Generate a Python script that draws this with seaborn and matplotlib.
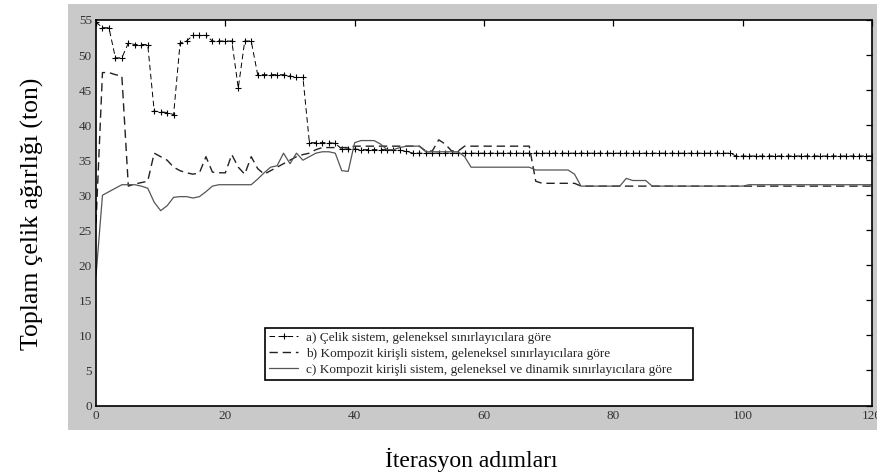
import matplotlib
matplotlib.use("Agg")
import matplotlib.pyplot as plt
import seaborn as sns
import pandas as pd
from matplotlib.patches import Rectangle

# ---------------- data ----------------
iterations = list(range(0, 121))

series_a = [
    54.7, 53.9, 53.9, 49.6, 49.6, 51.7, 51.5, 51.5, 51.5, 42.0,
    41.9, 41.8, 41.5, 51.7, 52.0, 52.8, 52.8, 52.8, 52.0, 52.0,
    52.0, 52.0, 45.3, 52.0, 52.0, 47.2, 47.2, 47.2, 47.2, 47.2,
    47.0, 46.8, 46.8, 37.5, 37.5, 37.5, 37.5, 37.4, 36.6, 36.6,
    36.6, 36.5, 36.5, 36.5, 36.5, 36.5, 36.4, 36.4, 36.3, 36.0,
    36.0, 36.0, 36.0, 36.0, 36.0, 36.0, 36.0, 36.0, 36.0, 36.0,
    36.0, 36.0, 36.0, 36.0, 36.0, 36.0, 36.0, 36.0, 36.0, 36.0,
    36.0, 36.0, 36.0, 36.0, 36.0, 36.0, 36.0, 36.0, 36.0, 36.0,
    36.0, 36.0, 36.0, 36.0, 36.0, 36.0, 36.0, 36.0, 36.0, 36.0,
    36.0, 36.0, 36.0, 36.0, 36.0, 36.0, 36.0, 36.0, 36.0, 35.6,
    35.6, 35.6, 35.6, 35.6, 35.6, 35.6, 35.6, 35.6, 35.6, 35.6,
    35.6, 35.6, 35.6, 35.6, 35.6, 35.6, 35.6, 35.6, 35.6, 35.6,
    35.6,
]

series_b = [
    26.0, 47.5, 47.5, 47.2, 47.0, 31.3, 31.6, 31.8, 32.0, 36.0,
    35.5, 35.0, 34.0, 33.5, 33.2, 33.0, 33.2, 35.5, 33.3, 33.2,
    33.2, 35.8, 34.0, 33.0, 35.5, 33.8, 33.0, 33.5, 34.0, 34.5,
    35.0, 35.5, 35.8, 36.0, 36.5, 36.8, 36.8, 36.8, 36.8, 36.8,
    37.0, 37.0, 37.0, 37.0, 37.0, 37.0, 37.0, 37.0, 37.0, 37.0,
    37.0, 36.3, 36.3, 37.9, 37.3, 36.3, 36.3, 37.0, 37.0, 37.0,
    37.0, 37.0, 37.0, 37.0, 37.0, 37.0, 37.0, 37.0, 32.0, 31.7,
    31.7, 31.7, 31.7, 31.7, 31.7, 31.3, 31.3, 31.3, 31.3, 31.3,
    31.3, 31.3, 31.3, 31.3, 31.3, 31.3, 31.3, 31.3, 31.3, 31.3,
    31.3, 31.3, 31.3, 31.3, 31.3, 31.3, 31.3, 31.3, 31.3, 31.3,
    31.3, 31.3, 31.3, 31.3, 31.3, 31.3, 31.3, 31.3, 31.3, 31.3,
    31.3, 31.3, 31.3, 31.3, 31.3, 31.3, 31.3, 31.3, 31.3, 31.3,
    31.3,
]

series_c = [
    18.5, 30.0, 30.5, 31.0, 31.5, 31.5, 31.5, 31.3, 31.0, 29.0,
    27.8, 28.5, 29.7, 29.8, 29.8, 29.6, 29.8, 30.5, 31.3, 31.5,
    31.5, 31.5, 31.5, 31.5, 31.5, 32.3, 33.2, 34.0, 34.2, 36.0,
    34.5, 36.0, 35.0, 35.5, 36.0, 36.2, 36.2, 36.0, 33.5, 33.4,
    37.5, 37.8, 37.8, 37.8, 37.3, 36.5, 36.5, 36.8, 37.0, 37.0,
    37.0, 36.2, 36.2, 36.2, 36.2, 36.2, 36.2, 35.5, 34.0, 34.0,
    34.0, 34.0, 34.0, 34.0, 34.0, 34.0, 34.0, 34.0, 33.6, 33.6,
    33.6, 33.6, 33.6, 33.6, 33.0, 31.3, 31.3, 31.3, 31.3, 31.3,
    31.3, 31.3, 32.4, 32.1, 32.1, 32.1, 31.3, 31.3, 31.3, 31.3,
    31.3, 31.3, 31.3, 31.3, 31.3, 31.3, 31.3, 31.3, 31.3, 31.3,
    31.3, 31.5, 31.5, 31.5, 31.5, 31.5, 31.5, 31.5, 31.5, 31.5,
    31.5, 31.5, 31.5, 31.5, 31.5, 31.5, 31.5, 31.5, 31.5, 31.5,
    31.5,
]

labels = [
    "a) Çelik sistem, geleneksel sınırlayıcılara göre",
    "b) Kompozit kirişli sistem, geleneksel sınırlayıcılara göre",
    "c) Kompozit kirişli sistem, geleneksel ve dinamik sınırlayıcılara göre",
]
x_ticks = [0, 20, 40, 60, 80, 100, 120]
y_ticks = [0, 5, 10, 15, 20, 25, 30, 35, 40, 45, 50, 55]
y_label = "Toplam çelik ağırlığı (ton)"
x_label = "İterasyon adımları"

df = pd.DataFrame({"iter": iterations, "a": series_a, "b": series_b, "c": series_c})

# ---------------- style ----------------
sns.set_theme(style="white")
plt.rcParams["font.family"] = ["Liberation Serif", "DejaVu Serif"]
plt.rcParams["lines.scale_dashes"] = False

W, H = 877, 472
fig = plt.figure(figsize=(W / 100, H / 100), dpi=100)
fig.patch.set_facecolor("white")
panel = Rectangle((68 / W, 1 - 430 / H), (W - 68) / W, (430 - 4) / H,
                  transform=fig.transFigure, facecolor="#c9c9c9",
                  edgecolor="none", zorder=-10)
fig.patches.append(panel)

ax = fig.add_axes([96 / W, 1 - 405.5 / H, 776 / W, 385.5 / H])
ax.set_zorder(5)
ax.set_facecolor("white")

sns.lineplot(data=df, x="iter", y="a", ax=ax, color="black", lw=0.7,
             linestyle=(0, (4, 2.5)), marker="+", markersize=4.5,
             markeredgewidth=0.8, markeredgecolor="black", label=labels[0])
sns.lineplot(data=df, x="iter", y="b", ax=ax, color="#222222", lw=1.0,
             linestyle=(0, (6, 3.5)), label=labels[1])
sns.lineplot(data=df, x="iter", y="c", ax=ax, color="#555555", lw=0.9,
             linestyle="-", label=labels[2])

ax.set_xlim(0, 120)
ax.set_ylim(0, 55)
ax.set_xticks(x_ticks)
ax.set_yticks(y_ticks)
ax.set_xlabel("")
ax.set_ylabel("")
ax.tick_params(direction="in", length=4, width=0.9, top=True, right=True,
               labelsize=9.5, labelcolor="#333333", color="black", pad=3)
for s in ax.spines.values():
    s.set_color("black")
    s.set_linewidth(1.2)

leg = ax.legend(loc="lower left", bbox_to_anchor=(0.218, 0.066, 0.551, 0.148),
                mode="expand", fontsize=9.5, frameon=True, fancybox=False,
                edgecolor="black", framealpha=1, borderpad=0.3,
                labelspacing=0.3, handlelength=2.2, handletextpad=0.6,
                borderaxespad=0)
leg.get_frame().set_linewidth(1.2)

fig.text(32 / W, 1 - 214 / H, y_label, rotation=90, ha="center", va="center",
         fontsize=18.5, color="black")
fig.text(471 / W, 1 - 460 / H, x_label, ha="center", va="center",
         fontsize=17, color="black")

fig.savefig("out.png", dpi=100)
